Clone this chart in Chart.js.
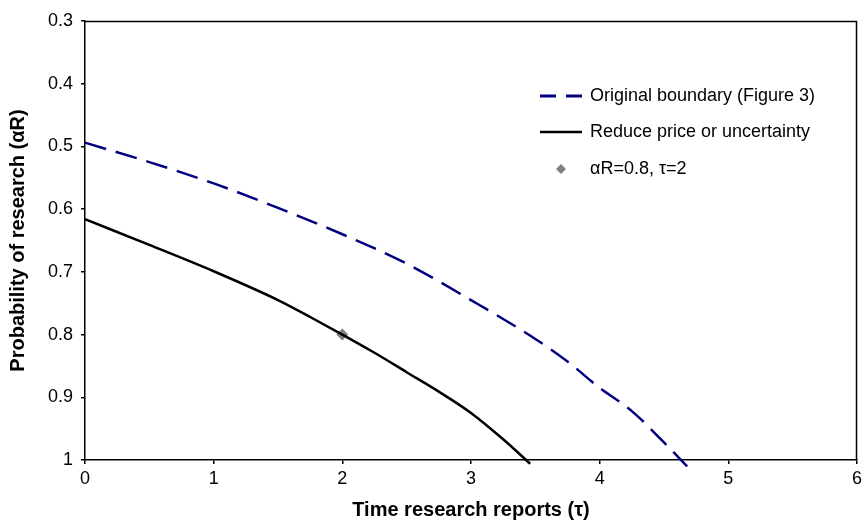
<!DOCTYPE html>
<html>
<head>
<meta charset="utf-8">
<script src="https://cdn.jsdelivr.net/npm/chart.js@4.4.0/dist/chart.umd.min.js"></script>
<style>
  html, body { margin: 0; padding: 0; background: #ffffff; }
  #wrap { width: 863px; height: 522px; position: relative; }
</style>
</head>
<body>
<div id="wrap"><canvas id="c" width="863" height="522"></canvas></div>
<script>
// ---- Data ----
const tauOriginal   = [0, 0.5, 1, 1.5, 2, 2.5, 3, 3.5, 3.75, 4, 4.25, 4.5, 4.68];
const alphaOriginal = [0.494, 0.525, 0.559, 0.598, 0.640, 0.687, 0.745, 0.807, 0.843, 0.885, 0.922, 0.972, 1.01];

const tauReduced   = [0, 0.5, 1, 1.5, 1.75, 2, 2.25, 2.5, 2.75, 3, 3.25, 3.46];
const alphaReduced = [0.616, 0.657, 0.699, 0.745, 0.772, 0.800, 0.829, 0.860, 0.891, 0.925, 0.967, 1.006];

const pointTau   = [2];
const pointAlpha = [0.8];

const seriesLabels = ['Original boundary (Figure 3)', 'Reduce price or uncertainty', '\u03B1R=0.8, \u03C4=2'];
const xTicks = [0, 1, 2, 3, 4, 5, 6];
const yTicks = [0.3, 0.4, 0.5, 0.6, 0.7, 0.8, 0.9, 1];
const xTitle = 'Time research reports (\u03C4)';
const yTitle = 'Probability of research (\u03B1R)';

const toXY = (xs, ys) => xs.map((x, i) => ({ x: x, y: ys[i] }));

const FONT = 'Liberation Sans, Arial, Helvetica, sans-serif';

const boxPlugin = {
  id: 'boxAndLegend',
  afterDraw(chart) {
    const { ctx, chartArea: a } = chart;
    ctx.save();
    // plot border (top and right)
    ctx.strokeStyle = '#000';
    ctx.lineWidth = 1.5;
    ctx.beginPath();
    ctx.moveTo(a.left, a.top + 0.5);
    ctx.lineTo(a.right - 0.5, a.top + 0.5);
    ctx.lineTo(a.right - 0.5, a.bottom);
    ctx.stroke();

    // legend
    const x0 = a.left + 455, x1 = a.left + 497, tx = a.left + 505;
    const ys = [a.top + 75, a.top + 111, a.top + 148];
    ctx.font = '18px ' + FONT;
    ctx.textBaseline = 'middle';
    ctx.fillStyle = '#000';
    // item 1: dashed navy
    ctx.strokeStyle = '#000080';
    ctx.lineWidth = 3;
    ctx.setLineDash([16, 10]);
    ctx.beginPath(); ctx.moveTo(x0, ys[0]); ctx.lineTo(x1 + 10, ys[0]); ctx.stroke();
    ctx.setLineDash([]);
    ctx.fillStyle = '#fff';
    ctx.fillRect(x1 + 0.5, ys[0] - 3, 9, 6);
    ctx.fillStyle = '#000';
    ctx.fillText(seriesLabels[0], tx, ys[0]);
    // item 2: solid black
    ctx.strokeStyle = '#000';
    ctx.lineWidth = 2.5;
    ctx.beginPath(); ctx.moveTo(x0, ys[1]); ctx.lineTo(x1, ys[1]); ctx.stroke();
    ctx.fillText(seriesLabels[1], tx, ys[1]);
    // item 3: grey diamond
    const cx = (x0 + x1) / 2, r = 5;
    ctx.fillStyle = '#808080';
    ctx.beginPath();
    ctx.moveTo(cx, ys[2] - r); ctx.lineTo(cx + r, ys[2]); ctx.lineTo(cx, ys[2] + r); ctx.lineTo(cx - r, ys[2]);
    ctx.closePath(); ctx.fill();
    ctx.fillStyle = '#000';
    ctx.fillText(seriesLabels[2], tx, ys[2]);
    ctx.restore();
  }
};

new Chart(document.getElementById('c'), {
  type: 'scatter',
  data: {
    datasets: [
      {
        label: seriesLabels[0],
        data: toXY(tauOriginal, alphaOriginal),
        showLine: true,
        borderColor: '#000080',
        borderWidth: 2.5,
        borderDash: [22, 10],
        pointRadius: 0,
        cubicInterpolationMode: 'monotone',
        clip: 10
      },
      {
        label: seriesLabels[1],
        data: toXY(tauReduced, alphaReduced),
        showLine: true,
        borderColor: '#000000',
        borderWidth: 2.5,
        pointRadius: 0,
        cubicInterpolationMode: 'monotone',
        clip: 10
      },
      {
        label: seriesLabels[2],
        data: toXY(pointTau, pointAlpha),
        showLine: false,
        pointStyle: 'rectRot',
        pointRadius: 6,
        backgroundColor: '#808080',
        borderColor: '#808080',
        borderWidth: 0
      }
    ]
  },
  options: {
    responsive: false,
    animation: false,
    layout: { padding: { top: 21, right: 1, left: 0, bottom: 0 } },
    plugins: { legend: { display: false }, tooltip: { enabled: false } },
    scales: {
      x: {
        type: 'linear',
        min: 0, max: 6,
        afterBuildTicks: s => { s.ticks = xTicks.map(v => ({ value: v })); },
        afterFit: s => { s.height = 62; s.paddingLeft = 0; s.paddingRight = 0; },
        grid: { drawOnChartArea: false, drawTicks: true, tickLength: 4, color: '#000', lineWidth: 1.5 },
        border: { display: true, color: '#000', width: 1.5 },
        ticks: { color: '#000', font: { family: FONT, size: 18 }, padding: 4, maxRotation: 0, callback: v => String(v) },
        title: { display: true, text: xTitle, color: '#000', font: { family: FONT, size: 20, weight: 'bold' }, padding: { top: 0, bottom: 0 } }
      },
      y: {
        type: 'linear',
        reverse: true,
        min: 0.3, max: 1,
        afterBuildTicks: s => { s.ticks = yTicks.map(v => ({ value: v })); },
        afterFit: s => { s.width = 85; s.paddingTop = 0; s.paddingBottom = 0; },
        grid: { drawOnChartArea: false, drawTicks: true, tickLength: 4, color: '#000', lineWidth: 1.5 },
        border: { display: true, color: '#000', width: 1.5 },
        ticks: { color: '#000', font: { family: FONT, size: 18 }, padding: 8, callback: v => String(+v.toFixed(1)) },
        title: { display: true, text: yTitle, color: '#000', font: { family: FONT, size: 20, weight: 'bold' }, padding: { top: 6, bottom: 0 } }
      }
    }
  },
  plugins: [boxPlugin]
});
</script>
</body>
</html>
